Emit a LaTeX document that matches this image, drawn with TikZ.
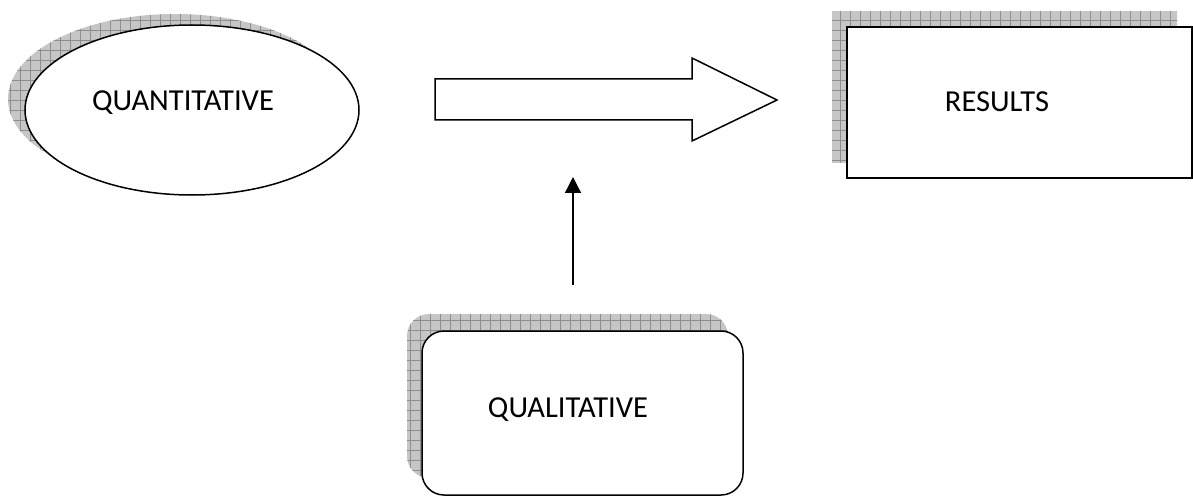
\documentclass[tikz,border=0pt]{standalone}
\usepackage{fontspec}
\setmainfont{Carlito}
\usepackage{xcolor}
\usepackage{tikz}
\usetikzlibrary{arrows.meta,positioning,shapes.geometric}
\definecolor{linec}{HTML}{000000}
\definecolor{shadebg}{HTML}{C6C6C6}
\definecolor{shadeln}{HTML}{8E8E8E}
\tikzset{
  ar/.style={-{Triangle[length=16pt,width=16pt]},line width=1.4pt,linec},
  shp/.style={draw=linec,line width=1.5pt,fill=white,inner sep=0pt},
  lbl/.style={font=\fontsize{30.5}{36}\selectfont,text=black},
  hatch/.style={draw=shadeln,line width=0.6pt,xstep=10pt,ystep=10pt}
}

\begin{document}
\begin{tikzpicture}[x=1pt,y=-1pt]
\useasboundingbox (0,0) rectangle (1193,497);
% shadows
\begin{scope}
 \clip (175,99) ellipse [x radius=167, y radius=85];
 \fill[shadebg] (0,0) rectangle (400,200);
 \draw[hatch] (0,0) grid (400,200);
\end{scope}
\begin{scope}
 \clip (832,12) rectangle (1177,163);
 \fill[shadebg] (820,0) rectangle (1193,180);
 \draw[hatch] (820,0) grid (1193,180);
\end{scope}
\begin{scope}
 \clip[rounded corners=22pt] (407,314) rectangle (728,478);
 \fill[shadebg] (400,300) rectangle (740,497);
 \draw[hatch] (400,300) grid (740,497);
\end{scope}
% shapes
\node[shp,ellipse,minimum width=334pt,minimum height=170pt] (quant) at (192,110) {};
\node[lbl] (quanttxt) at (183,103) {QUANTITATIVE};
\node[shp,rectangle,minimum width=345pt,minimum height=151pt] (results) at (1019.5,102.5) {};
\node[lbl] (resultstxt) at (997,102) {RESULTS};
\node[shp,rectangle,rounded corners=22pt,minimum width=321pt,minimum height=164pt] (qual) at (582.5,413) {};
\node[lbl] (qualtxt) at (568,410) {QUALITATIVE};
% block arrow
\draw[line width=1.5pt,linec,fill=white,line join=miter]
 (435,79) -- (692,79) -- (692,58) -- (777,100) -- (692,141) -- (692,120) -- (435,120) -- cycle;
% qualitative feeds in
\coordinate (qfoot) at (573,285);
\coordinate (qhead) at (573,177);
\draw[ar] (qfoot) -- (qhead);
\end{tikzpicture}
\end{document}
